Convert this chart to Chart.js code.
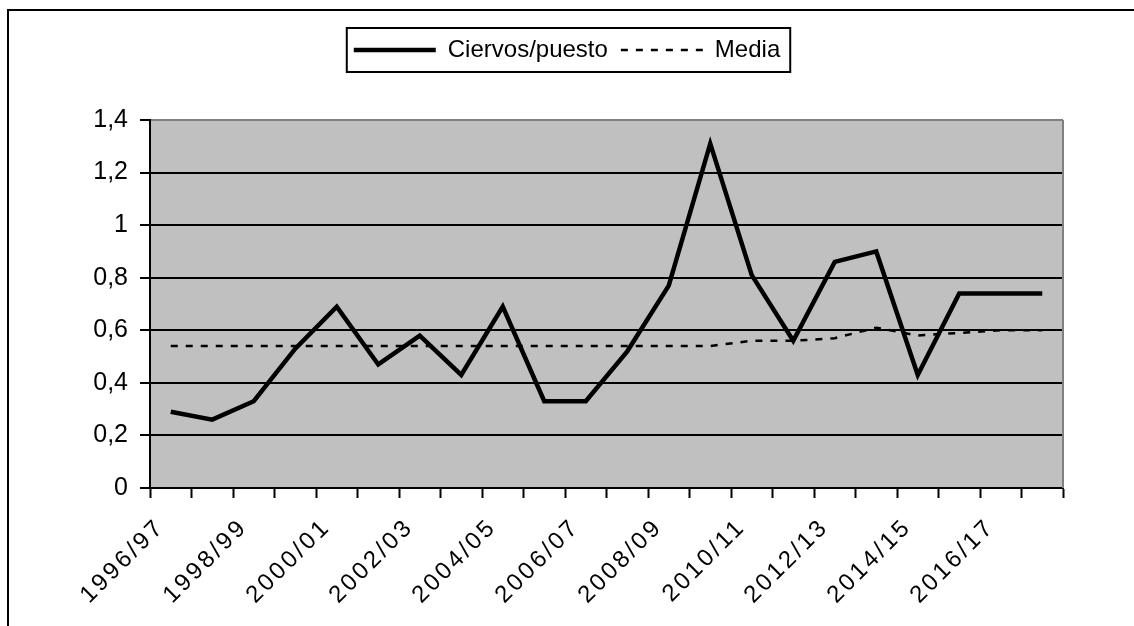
<!DOCTYPE html>
<html>
<head>
<meta charset="utf-8">
<script src="https://cdn.jsdelivr.net/npm/chart.js@4.4.1/dist/chart.umd.min.js"></script>
<style>
  html, body { margin: 0; padding: 0; background: #fff; overflow: hidden; }
  #frame { position: absolute; left: 7px; top: 9px; width: 1200px; height: 700px; border: 2px solid #000; }
  #wrap { position: absolute; left: 0; top: 0; width: 1134px; height: 626px; }
</style>
</head>
<body>
<div id="frame"></div>
<div id="wrap"><canvas id="chart" width="1134" height="626"></canvas></div>
<script>
const seasons = [
  "1996/97", "1997/98", "1998/99", "1999/00", "2000/01", "2001/02", "2002/03", "2003/04",
  "2004/05", "2005/06", "2006/07", "2007/08", "2008/09", "2009/10", "2010/11", "2011/12",
  "2012/13", "2013/14", "2014/15", "2015/16", "2016/17", "2017/18"
];
const ciervosPuesto = [
  0.29, 0.26, 0.33, 0.53, 0.69, 0.47, 0.58, 0.43, 0.69, 0.33, 0.33,
  0.52, 0.77, 1.31, 0.81, 0.56, 0.86, 0.90, 0.43, 0.74, 0.74, 0.74
];
const media = [
  0.54, 0.54, 0.54, 0.54, 0.54, 0.54, 0.54, 0.54, 0.54, 0.54, 0.54,
  0.54, 0.54, 0.54, 0.56, 0.56, 0.57, 0.61, 0.58, 0.59, 0.60, 0.60
];
const yMin = 0;
const yMax = 1.4;
const yStep = 0.2;

const font = "'Liberation Sans', Arial, sans-serif";
Chart.defaults.font.family = font;
Chart.defaults.color = "#000";

const plotArea = {
  id: "plotArea",
  beforeDraw(chart) {
    const { ctx, chartArea: a } = chart;
    ctx.save();
    ctx.fillStyle = "#c0c0c0";
    ctx.fillRect(a.left, a.top, a.width, a.height);
    ctx.restore();
  },
  afterDraw(chart) {
    const { ctx, chartArea: a } = chart;
    ctx.save();
    ctx.strokeStyle = "#808080";
    ctx.lineWidth = 2;
    ctx.beginPath();
    ctx.moveTo(a.right, a.top);
    ctx.lineTo(a.right, a.bottom);
    ctx.stroke();

    // frame round the legend
    const boxes = chart.legend.legendHitBoxes;
    if (boxes && boxes.length) {
      const first = boxes[0];
      const last = boxes[boxes.length - 1];
      const left = first.left - 7;
      const right = last.left + last.width + 10;
      ctx.strokeStyle = "#000";
      ctx.lineWidth = 2;
      ctx.strokeRect(left, first.top - 10, right - left, first.height + 20);
    }
    ctx.restore();
  },
};

new Chart(document.getElementById("chart"), {
  type: "line",
  data: {
    labels: seasons,
    datasets: [
      {
        label: "Ciervos/puesto",
        data: ciervosPuesto,
        borderColor: "#000",
        backgroundColor: "#000",
        borderWidth: 4.5,
        pointRadius: 0,
        tension: 0,
      },
      {
        label: "Media",
        data: media,
        borderColor: "#000",
        backgroundColor: "#000",
        borderWidth: 2.5,
        borderDash: [7, 8],
        pointRadius: 0,
        tension: 0,
      },
    ],
  },
  options: {
    responsive: false,
    animation: false,
    layout: { padding: { top: 25, right: 0, bottom: 0, left: 0 } },
    plugins: {
      legend: {
        position: "top",
        labels: {
          color: "#000",
          font: { size: 24 },
          usePointStyle: true,
          pointStyle: "line",
          pointStyleWidth: 82,
          padding: 13,
          generateLabels(chart) {
            const items = Chart.defaults.plugins.legend.labels.generateLabels(chart);
            return items.map((item) => {
              const ds = chart.data.datasets[item.datasetIndex];
              return { ...item, lineWidth: ds.borderWidth, lineDash: ds.borderDash || [] };
            });
          },
        },
      },
      title: {
        display: true,
        text: "",
        weight: 500,
        font: { size: 10, lineHeight: 1 },
        padding: { top: 0, bottom: 38 },
      },
      tooltip: { enabled: false },
    },
    scales: {
      x: {
        offset: true,
        afterFit(scale) {
          scale.height = 138;
          if (!scale._spaced) {
            // wider letter spacing for the slanted season labels
            const drawLabels = scale.drawLabels.bind(scale);
            scale.drawLabels = (area) => {
              const ctx = scale.ctx;
              ctx.save();
              ctx.letterSpacing = "3px";
              drawLabels(area);
              ctx.restore();
            };
            scale._spaced = true;
          }
        },
        grid: {
          offset: true,
          drawOnChartArea: false,
          drawTicks: true,
          tickLength: 10,
          tickColor: "#000",
          tickWidth: 2,
        },
        border: { color: "#000", width: 2 },
        ticks: {
          autoSkip: false,
          minRotation: 45,
          maxRotation: 45,
          color: "#000",
          font: { size: 24 },
          labelOffset: -10,
          padding: 15,
          callback(value, index) {
            return index % 2 === 0 ? this.getLabelForValue(value) : "";
          },
        },
      },
      y: {
        min: yMin,
        max: yMax,
        afterFit(scale) { scale.width = 150; },
        ticks: {
          stepSize: yStep,
          color: "#000",
          font: { size: 25 },
          padding: 12,
          callback: (v) => String(Math.round(v * 10) / 10).replace(".", ","),
        },
        grid: {
          color: (c) => (c.tick && c.tick.value >= yMax - 1e-9 ? "#808080" : "#000"),
          lineWidth: 2,
          tickColor: "#000",
          tickLength: 10,
        },
        border: { color: "#000", width: 2 },
      },
      spacer: {
        type: "linear",
        position: "right",
        afterFit(scale) { scale.width = 71; },
        grid: { display: false },
        border: { display: false },
        ticks: { display: false },
      },
    },
  },
  plugins: [plotArea],
});
</script>
</body>
</html>
